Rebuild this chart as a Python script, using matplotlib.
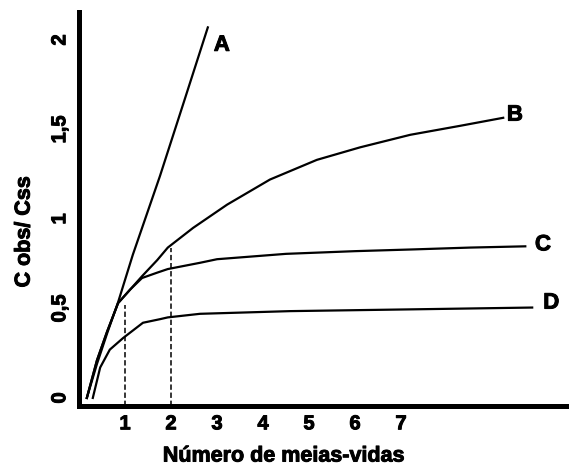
import numpy as np
import matplotlib
matplotlib.use('Agg')
import matplotlib.pyplot as plt
import matplotlib.patheffects as pe

plt.rcParams['font.family'] = ['Liberation Sans', 'DejaVu Sans']
plt.rcParams['font.weight'] = 'bold'

# curvas (x = número de meias-vidas, y = Cobs/Css)
a_x = [0.17, 0.39, 0.61, 0.85, 1.17, 1.76, 2.30, 2.80]
a_y = [0.00, 0.19, 0.36, 0.535, 0.80, 1.24, 1.67, 2.07]

b_x = [0.17, 0.39, 0.61, 0.85, 1.11, 1.37, 1.70, 1.93, 2.48, 3.22, 4.15, 5.17, 6.11, 7.20, 8.28, 9.22]
b_y = [0.00, 0.21, 0.37, 0.53, 0.605, 0.68, 0.77, 0.84, 0.95, 1.08, 1.22, 1.33, 1.40, 1.47, 1.52, 1.565]

c_x = [0.17, 0.39, 0.61, 0.85, 1.11, 1.37, 1.70, 1.93, 2.63, 3.00, 4.50, 6.00, 7.30, 8.50, 9.70]
c_y = [0.00, 0.21, 0.37, 0.53, 0.605, 0.67, 0.70, 0.72, 0.755, 0.775, 0.805, 0.82, 0.83, 0.84, 0.847]

d_x = [0.30, 0.46, 0.67, 0.96, 1.39, 1.76, 1.93, 2.63, 4.59, 7.26, 9.85]
d_y = [0.00, 0.17, 0.27, 0.335, 0.42, 0.44, 0.45, 0.47, 0.485, 0.495, 0.505]

curve_labels = ['A', 'B', 'C', 'D']
label_pos = [(2.93, 1.97), (9.30, 1.58), (9.91, 0.855), (10.09, 0.53)]

dash_x = [1, 2]
dash_top = [0.52, 0.84]

xticks = [1, 2, 3, 4, 5, 6, 7]
yticks = [0, 0.5, 1, 1.5, 2]
ytick_labels = ['0', '0,5', '1', '1,5', '2']

heavy = [pe.withStroke(linewidth=0.7, foreground='black')]

fig = plt.figure(figsize=(5.69, 4.70), dpi=100)
ax = fig.add_axes([79 / 569, 64 / 470, 490 / 569, 394 / 470])

for xs, ys in [(a_x, a_y), (b_x, b_y), (c_x, c_y), (d_x, d_y)]:
    ax.plot(xs, ys, color='black', lw=1.6, solid_joinstyle='round')

for lab, (lx, ly) in zip(curve_labels, label_pos):
    ax.text(lx, ly, lab, fontsize=16, fontweight='bold', ha='left', va='center',
            path_effects=heavy)

ymin = -0.045
for xv, top in zip(dash_x, dash_top):
    ax.plot([xv, xv], [ymin, top], color='black', lw=1.1, linestyle=(0, (3.5, 1.8)))

ax.set_xlim(0, 10.65)
ax.set_ylim(ymin, 2.156)

ax.spines['top'].set_visible(False)
ax.spines['right'].set_visible(False)
ax.spines['left'].set_linewidth(3.6)
ax.spines['bottom'].set_linewidth(3.6)

ax.set_xticks(xticks)
ax.set_xticklabels([str(t) for t in xticks], fontsize=14.5, fontweight='bold')
ax.set_yticks(yticks)
ax.set_yticklabels(ytick_labels, fontsize=14.5, fontweight='bold', rotation=90, va='center')
ax.tick_params(axis='both', length=0)
ax.tick_params(axis='x', pad=6)
ax.tick_params(axis='y', pad=7)
for t in ax.get_xticklabels() + ax.get_yticklabels():
    t.set_path_effects(heavy)

ax.set_xlabel('Número de meias-vidas', fontsize=15.5, fontweight='bold', path_effects=heavy)
ax.xaxis.set_label_coords(0.418, -0.127)
ax.xaxis.label.set_va('center')
ax.set_ylabel('C obs/ Css', fontsize=15.5, fontweight='bold', path_effects=heavy)
ax.yaxis.set_label_coords(-0.112, 0.442)
ax.yaxis.label.set_va('center')

fig.savefig('out.png', dpi=100)
